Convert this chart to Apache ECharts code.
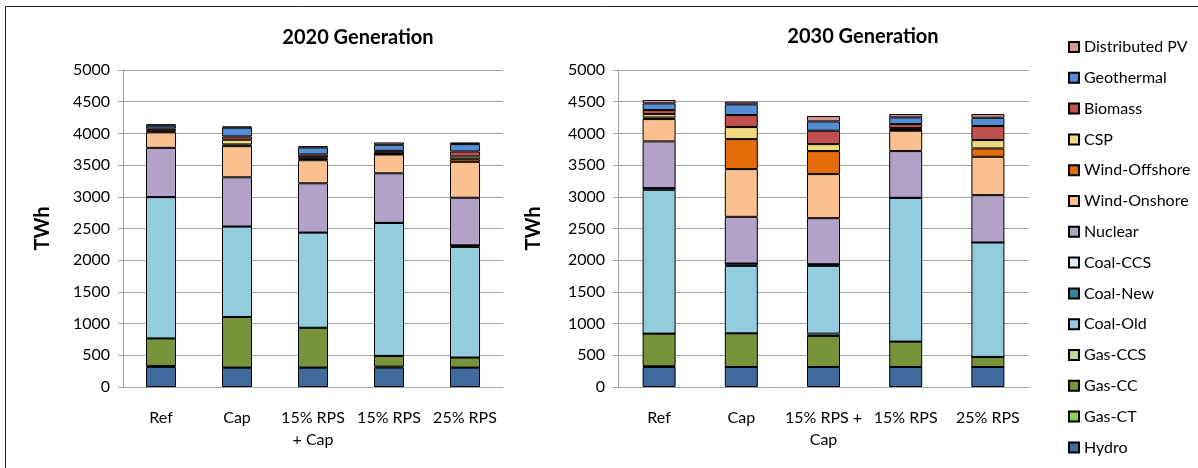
<!DOCTYPE html>
<html>
<head>
<meta charset="utf-8">
<script src="https://cdn.jsdelivr.net/npm/echarts@6/dist/echarts.min.js"></script>
<style>
  html, body { margin: 0; padding: 0; background: #fff; }
  #main { width: 1198px; height: 468px; }
</style>
</head>
<body>
<div id="main"></div>
<script>
// categories
const cats2020 = ['Ref', 'Cap', '15% RPS\n+ Cap', '15% RPS', '25% RPS']
const cats2030 = ['Ref', 'Cap', '15% RPS +\nCap', '15% RPS', '25% RPS']
const yTicks = [0, 500, 1000, 1500, 2000, 2500, 3000, 3500, 4000, 4500, 5000]

// 2020 generation, TWh (Ref, Cap, 15% RPS + Cap, 15% RPS, 25% RPS)
const hydro20 = [317, 306, 306, 306, 306]
const gasCT20 = [15, 0, 0, 15, 0]
const gasCC20 = [434, 798, 629, 170, 159]
const gasCCS20 = [0, 0, 0, 0, 0]
const coalOld20 = [2229, 1427, 1501, 2098, 1744]
const coalNew20 = [0, 0, 0, 0, 26]
const coalCCS20 = [0, 0, 0, 0, 0]
const nuclear20 = [777, 777, 777, 782, 750]
const windOn20 = [244, 491, 364, 296, 566]
const windOff20 = [15, 27, 21, 10, 42]
const csp20 = [15, 74, 27, 10, 42]
const biomass20 = [30, 52, 42, 38, 80]
const geo20 = [45, 138, 111, 95, 116]
const pv20 = [25, 21, 21, 37, 26]

// 2030 generation, TWh
const hydro30 = [316, 316, 316, 316, 316]
const gasCT30 = [12, 0, 0, 0, 0]
const gasCC30 = [514, 531, 489, 400, 158]
const gasCCS30 = [0, 0, 37, 0, 0]
const coalOld30 = [2268, 1063, 1068, 2268, 1805]
const coalNew30 = [27, 37, 27, 0, 0]
const coalCCS30 = [0, 0, 0, 0, 0]
const nuclear30 = [737, 737, 726, 737, 747]
const windOn30 = [352, 753, 695, 321, 605]
const windOff30 = [25, 473, 363, 12, 132]
const csp30 = [54, 190, 110, 30, 132]
const biomass30 = [63, 189, 211, 63, 221]
const geo30 = [106, 169, 147, 106, 131]
const pv30 = [52, 42, 85, 52, 58]

// stacking order, bottom to top
const layers = [
  ['Hydro', '#40699C', hydro20, hydro30],
  ['Gas-CT', '#92D050', gasCT20, gasCT30],
  ['Gas-CC', '#77933C', gasCC20, gasCC30],
  ['Gas-CCS', '#C3D69B', gasCCS20, gasCCS30],
  ['Coal-Old', '#93CDDD', coalOld20, coalOld30],
  ['Coal-New', '#31859C', coalNew20, coalNew30],
  ['Coal-CCS', '#DBEEF4', coalCCS20, coalCCS30],
  ['Nuclear', '#B3A2C7', nuclear20, nuclear30],
  ['Wind-Onshore', '#FAC090', windOn20, windOn30],
  ['Wind-Offshore', '#E46C0A', windOff20, windOff30],
  ['CSP', '#F2DA80', csp20, csp30],
  ['Biomass', '#C0504D', biomass20, biomass30],
  ['Geothermal', '#558ED5', geo20, geo30],
  ['Distributed PV', '#DA9694', pv20, pv30]
]

const font = 'Lato, "Open Sans", sans-serif'
const gray = '#A3A3A3'

const series = []
layers.forEach(l => {
  const style = { color: l[1], borderColor: '#000', borderWidth: 1 }
  series.push({
    name: l[0], type: 'bar', stack: 'y2020', xAxisIndex: 0, yAxisIndex: 0,
    barWidth: 30, itemStyle: style, data: l[2]
  })
  series.push({
    name: l[0], type: 'bar', stack: 'y2030', xAxisIndex: 1, yAxisIndex: 1,
    barWidth: 33, itemStyle: style, data: l[3]
  })
})

const xAxisBase = (idx, cats) => ({
  type: 'category', gridIndex: idx, data: cats,
  axisLine: { lineStyle: { color: gray, width: 1 } },
  axisTick: { interval: 0, length: 6, lineStyle: { color: gray } },
  axisLabel: { interval: 0, margin: 20, color: '#000', fontSize: 16, fontFamily: font, lineHeight: 22 }
})

const yAxisBase = (idx, gap) => ({
  type: 'value', gridIndex: idx, min: yTicks[0], max: yTicks[yTicks.length - 1], interval: 500,
  name: 'TWh', nameLocation: 'middle', nameGap: gap, nameRotate: 90,
  nameTextStyle: { fontSize: 20, fontWeight: 'bold', color: '#000', fontFamily: font },
  axisLine: { show: true, lineStyle: { color: gray } },
  axisTick: { show: true, length: 5, lineStyle: { color: gray } },
  axisLabel: { color: '#000', fontSize: 16, fontFamily: font, margin: 13, formatter: v => String(v) },
  splitLine: { lineStyle: { color: gray, width: 1 } }
})

const option = {
  animation: false,
  backgroundColor: '#fff',
  title: [
    { text: '2020 Generation', left: 353, top: 23, textAlign: 'center',
      textStyle: { fontSize: 20, fontWeight: 'bold', color: '#000', fontFamily: font } },
    { text: '2030 Generation', left: 858, top: 22, textAlign: 'center',
      textStyle: { fontSize: 20, fontWeight: 'bold', color: '#000', fontFamily: font } }
  ],
  legend: {
    orient: 'vertical', left: 1063, top: 34,
    itemWidth: 10, itemHeight: 10, itemGap: 14.8,
    icon: 'rect',
    textStyle: { fontSize: 16, lineHeight: 16, color: '#000', fontFamily: font },
    data: layers.map(l => l[0]).reverse()
  },
  grid: [
    { left: 123, top: 70, width: 380, height: 317 },
    { left: 618, top: 70, width: 411, height: 317 }
  ],
  xAxis: [xAxisBase(0, cats2020), xAxisBase(1, cats2030)],
  yAxis: [yAxisBase(0, 70), yAxisBase(1, 74)],
  graphic: [
    { type: 'rect', shape: { x: 5.5, y: 6.5, width: 1300, height: 600 },
      style: { fill: null, stroke: '#222', lineWidth: 1 }, silent: true }
  ],
  series: series
}

const myChart = echarts.init(document.getElementById('main'))
myChart.setOption(option)
</script>
</body>
</html>
